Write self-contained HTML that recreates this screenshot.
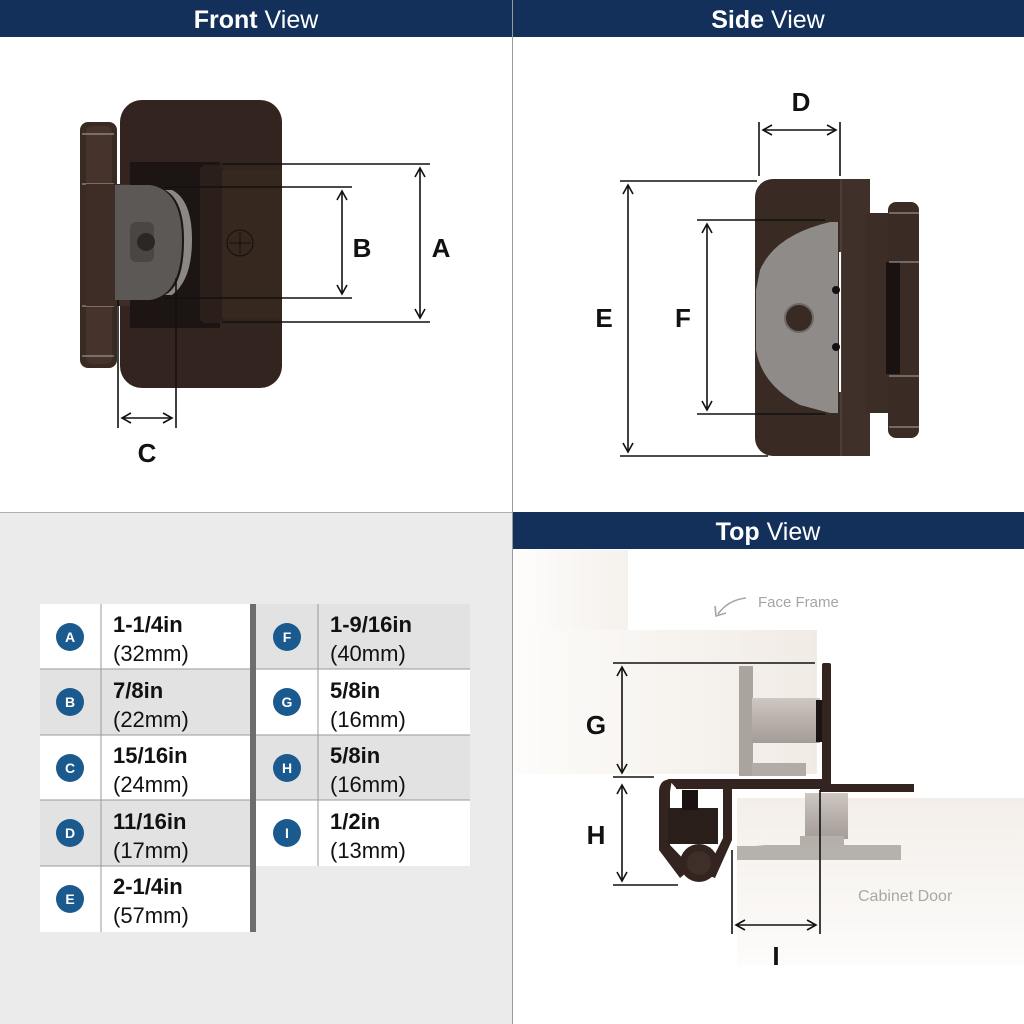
<!DOCTYPE html>
<html><head><meta charset="utf-8"><style>
html,body{margin:0;padding:0;width:1024px;height:1024px;overflow:hidden;background:#fff}
svg{display:block}
text{font-family:"Liberation Sans",sans-serif}
</style></head><body>
<svg width="1024" height="1024" viewBox="0 0 1024 1024" xmlns="http://www.w3.org/2000/svg">
<defs>
<marker id="ar" markerWidth="12" markerHeight="12" refX="10" refY="6" orient="auto-start-reverse" markerUnits="userSpaceOnUse">
<path d="M1,1 L10,6 L1,11" fill="none" stroke="#111" stroke-width="1.6"/>
</marker>
<linearGradient id="wood" x1="0" x2="1" y1="0" y2="0"><stop offset="0" stop-color="#fdfcfa"/><stop offset="1" stop-color="#f1ebe5"/></linearGradient>
<linearGradient id="wood2" x1="0" x2="0" y1="0" y2="1"><stop offset="0" stop-color="#f3eee9"/><stop offset="1" stop-color="#fdfcfb"/></linearGradient>
<linearGradient id="screw" x1="0" x2="0" y1="0" y2="1"><stop offset="0" stop-color="#cfc8c2"/><stop offset="0.5" stop-color="#b8b1ab"/><stop offset="1" stop-color="#a49c96"/></linearGradient>
</defs>

<rect x="0" y="513" width="512" height="511" fill="#ebebeb"/>
<line x1="512.5" y1="0" x2="512.5" y2="1024" stroke="#9a9a9a" stroke-width="1"/>
<line x1="0" y1="512.5" x2="512" y2="512.5" stroke="#b0b0b0" stroke-width="1"/>

<rect x="0" y="0" width="512" height="37" fill="#13305a"/>
<rect x="513" y="0" width="511" height="37" fill="#13305a"/>
<rect x="513" y="512" width="511" height="37" fill="#13305a"/>
<text x="256" y="28" text-anchor="middle" fill="#fff" font-size="25"><tspan font-weight="bold">Front</tspan> View</text>
<text x="768" y="28" text-anchor="middle" fill="#fff" font-size="25"><tspan font-weight="bold">Side</tspan> View</text>
<text x="768" y="540" text-anchor="middle" fill="#fff" font-size="25"><tspan font-weight="bold">Top</tspan> View</text>

<!-- FRONT VIEW hinge -->
<rect x="120" y="100" width="162" height="288" rx="22" fill="#33241f"/>
<rect x="80" y="122" width="37" height="246" rx="8" fill="#3a2a24"/>
<rect x="86" y="126" width="26" height="238" rx="6" fill="#45332c"/>
<line x1="82" y1="134" x2="114" y2="134" stroke="#aaa" stroke-width="1"/>
<line x1="82" y1="184" x2="114" y2="184" stroke="#aaa" stroke-width="1"/>
<line x1="82" y1="306" x2="114" y2="306" stroke="#aaa" stroke-width="1"/>
<line x1="82" y1="356" x2="114" y2="356" stroke="#aaa" stroke-width="1"/>
<rect x="86" y="184" width="60" height="122" fill="#3e2d27"/>
<rect x="130" y="162" width="90" height="166" fill="#1d1513"/>
<rect x="200" y="165" width="24" height="158" rx="6" fill="#2b1f1b"/>
<rect x="222" y="170" width="60" height="148" fill="#36271f"/>
<circle cx="240" cy="243" r="13" fill="none" stroke="#111" stroke-width="1"/>
<line x1="240" y1="232" x2="240" y2="254" stroke="#111"/><line x1="229" y1="243" x2="251" y2="243" stroke="#111"/>
<path d="M115,185 L150,185 Q182,190 182,240 Q182,295 150,300 L115,300 Z" fill="#5c5855"/>
<path d="M165,190 Q184,200 184,240 Q184,285 165,295 L172,295 Q192,280 192,240 Q192,200 172,190 Z" fill="#8b8783"/>
<rect x="130" y="222" width="24" height="40" rx="6" fill="#4a4644"/>
<circle cx="146" cy="242" r="9" fill="#2a2725"/>
<g stroke="#111" stroke-width="1.6" fill="none">
<line x1="222" y1="164" x2="430" y2="164"/><line x1="222" y1="322" x2="430" y2="322"/>
<line x1="420" y1="168" x2="420" y2="318" marker-start="url(#ar)" marker-end="url(#ar)"/>
<line x1="165" y1="187" x2="352" y2="187"/><line x1="165" y1="298" x2="352" y2="298"/>
<line x1="342" y1="191" x2="342" y2="294" marker-start="url(#ar)" marker-end="url(#ar)"/>
<line x1="118" y1="300" x2="118" y2="428"/><line x1="176" y1="278" x2="176" y2="428"/>
<line x1="122" y1="418" x2="172" y2="418" marker-start="url(#ar)" marker-end="url(#ar)"/>
</g>

<!-- SIDE VIEW hinge -->
<rect x="755" y="179" width="112" height="277" rx="18" fill="#3a2a24"/>
<rect x="840" y="179" width="30" height="277" fill="#40302a"/>
<line x1="841" y1="179" x2="841" y2="456" stroke="#5a4a44" stroke-width="1"/>
<rect x="866" y="213" width="26" height="200" fill="#3d2d27"/>
<rect x="888" y="202" width="31" height="236" rx="8" fill="#3b2b25"/>
<rect x="886" y="262" width="14" height="112" fill="#1a1210"/>
<line x1="889" y1="213" x2="919" y2="213" stroke="#aaa"/><line x1="889" y1="262" x2="919" y2="262" stroke="#aaa"/>
<line x1="889" y1="376" x2="919" y2="376" stroke="#aaa"/><line x1="889" y1="427" x2="919" y2="427" stroke="#aaa"/>
<path d="M838,222 L830,222 Q775,235 760,270 L756,290 L756,350 Q762,385 800,405 L830,413 L838,413 Z" fill="#8e8b88"/>
<line x1="840" y1="252" x2="840" y2="392" stroke="#fff" stroke-width="2"/>
<circle cx="836" cy="290" r="4" fill="#111"/><circle cx="836" cy="347" r="4" fill="#111"/>
<circle cx="799" cy="318" r="14" fill="#3a2a24" stroke="#6e6a67" stroke-width="2"/>
<g stroke="#111" stroke-width="1.6" fill="none">
<line x1="759" y1="122" x2="759" y2="176"/><line x1="840" y1="122" x2="840" y2="176"/>
<line x1="763" y1="130" x2="836" y2="130" marker-start="url(#ar)" marker-end="url(#ar)"/>
<line x1="620" y1="181" x2="757" y2="181"/><line x1="620" y1="456" x2="768" y2="456"/>
<line x1="628" y1="185" x2="628" y2="452" marker-start="url(#ar)" marker-end="url(#ar)"/>
<line x1="697" y1="220" x2="825" y2="220"/><line x1="697" y1="414" x2="825" y2="414"/>
<line x1="707" y1="224" x2="707" y2="410" marker-start="url(#ar)" marker-end="url(#ar)"/>
</g>

<!-- TABLE -->
<g font-size="22" fill="#111">
<rect x="40" y="604" width="210" height="328" fill="#fff"/>
<rect x="40" y="669" width="210" height="66" fill="#e2e2e2"/>
<rect x="40" y="800" width="210" height="66" fill="#e2e2e2"/>
<rect x="256" y="604" width="214" height="262" fill="#fff"/>
<rect x="256" y="604" width="214" height="65" fill="#e2e2e2"/>
<rect x="256" y="735" width="214" height="65" fill="#e2e2e2"/>
<rect x="250" y="604" width="6" height="328" fill="#6d6d6d"/>
<g stroke="#9a9a9a" stroke-width="1">
<line x1="40" y1="669" x2="250" y2="669"/><line x1="40" y1="735" x2="250" y2="735"/><line x1="40" y1="800" x2="250" y2="800"/><line x1="40" y1="866" x2="250" y2="866"/>
<line x1="256" y1="669" x2="470" y2="669"/><line x1="256" y1="735" x2="470" y2="735"/><line x1="256" y1="800" x2="470" y2="800"/>
<line x1="101" y1="604" x2="101" y2="932"/><line x1="318" y1="604" x2="318" y2="866"/>
</g>
<g fill="#1b5a8e">
<circle cx="70" cy="637" r="14"/><circle cx="70" cy="702" r="14"/><circle cx="70" cy="768" r="14"/><circle cx="70" cy="833" r="14"/><circle cx="70" cy="899" r="14"/>
<circle cx="287" cy="637" r="14"/><circle cx="287" cy="702" r="14"/><circle cx="287" cy="768" r="14"/><circle cx="287" cy="833" r="14"/>
</g>
<g fill="#fff" font-size="14" font-weight="bold" text-anchor="middle">
<text x="70" y="642">A</text><text x="70" y="707">B</text><text x="70" y="773">C</text><text x="70" y="838">D</text><text x="70" y="904">E</text>
<text x="287" y="642">F</text><text x="287" y="707">G</text><text x="287" y="773">H</text><text x="287" y="838">I</text>
</g>
<g font-weight="bold">
<text x="113" y="632">1-1/4in</text><text x="113" y="698">7/8in</text><text x="113" y="763">15/16in</text><text x="113" y="829">11/16in</text><text x="113" y="894">2-1/4in</text>
<text x="330" y="632">1-9/16in</text><text x="330" y="698">5/8in</text><text x="330" y="763">5/8in</text><text x="330" y="829">1/2in</text>
</g>
<g>
<text x="113" y="661">(32mm)</text><text x="113" y="727">(22mm)</text><text x="113" y="792">(24mm)</text><text x="113" y="858">(17mm)</text><text x="113" y="923">(57mm)</text>
<text x="330" y="661">(40mm)</text><text x="330" y="727">(16mm)</text><text x="330" y="792">(16mm)</text><text x="330" y="858">(13mm)</text>
</g>
</g>

<!-- TOP VIEW -->
<rect x="515" y="550" width="113" height="80" fill="url(#wood)" opacity="0.7"/>
<rect x="515" y="630" width="302" height="144" fill="url(#wood)"/>
<rect x="737" y="798" width="287" height="167" fill="url(#wood2)"/>
<text x="758" y="607" fill="#a5a5a5" font-size="15">Face Frame</text>
<path d="M746,598 Q728,600 718,614" fill="none" stroke="#a5a5a5" stroke-width="1.6"/>
<path d="M715,606 L716,616 L726,613" fill="none" stroke="#a5a5a5" stroke-width="1.6"/>
<text x="858" y="901" fill="#a8a8a8" font-size="16">Cabinet Door</text>
<rect x="739" y="666" width="14" height="110" fill="#aaa39e"/>
<rect x="752" y="698" width="68" height="45" fill="url(#screw)"/>
<rect x="816" y="700" width="6" height="42" fill="#1c1412"/>
<rect x="752" y="763" width="54" height="13" fill="#b2aba6"/>
<rect x="805" y="793" width="43" height="46" fill="url(#screw)"/>
<rect x="800" y="836" width="44" height="12" fill="#b6afa9"/>
<path d="M737,846 L755,846 L765,845 L901,845 L901,860 L737,860 Z" fill="#b7b1ac"/>
<g fill="#33241f">
<rect x="822" y="663" width="9" height="120" rx="2"/>
<path d="M668,779 L831,779 L831,789 L676,789 L676,788 Z"/>
<rect x="820" y="784" width="94" height="8"/>
<path d="M672,779 Q659,779 659,792 L659,850 L680,878 L692,868 L670,845 L670,792 Z"/>
<path d="M723,788 L732,788 L732,840 L715,878 L705,874 L723,838 Z"/>
<rect x="668" y="808" width="50" height="36" fill="#2a1e1a"/>
<rect x="682" y="790" width="16" height="20" fill="#1a1210"/>
<circle cx="699" cy="863" r="19"/>
<circle cx="699" cy="863" r="12" fill="#3f2f29"/>
</g>
<g stroke="#111" stroke-width="1.6" fill="none">
<line x1="613" y1="663" x2="815" y2="663"/><line x1="613" y1="777" x2="654" y2="777"/>
<line x1="622" y1="667" x2="622" y2="773" marker-start="url(#ar)" marker-end="url(#ar)"/>
<line x1="613" y1="885" x2="678" y2="885"/>
<line x1="622" y1="785" x2="622" y2="881" marker-start="url(#ar)" marker-end="url(#ar)"/>
<line x1="732" y1="850" x2="732" y2="934"/><line x1="820" y1="790" x2="820" y2="934"/>
<line x1="736" y1="925" x2="816" y2="925" marker-start="url(#ar)" marker-end="url(#ar)"/>
</g>

<!-- dimension labels (on top) -->
<g font-weight="bold" font-size="26" fill="#111" text-anchor="middle">
<text x="362" y="257">B</text><text x="441" y="257">A</text><text x="147" y="462">C</text>
<text x="801" y="111">D</text><text x="604" y="327">E</text><text x="683" y="327">F</text>
<text x="596" y="734">G</text><text x="596" y="844">H</text><text x="776" y="965">I</text>
</g>
</svg>
</body></html>
